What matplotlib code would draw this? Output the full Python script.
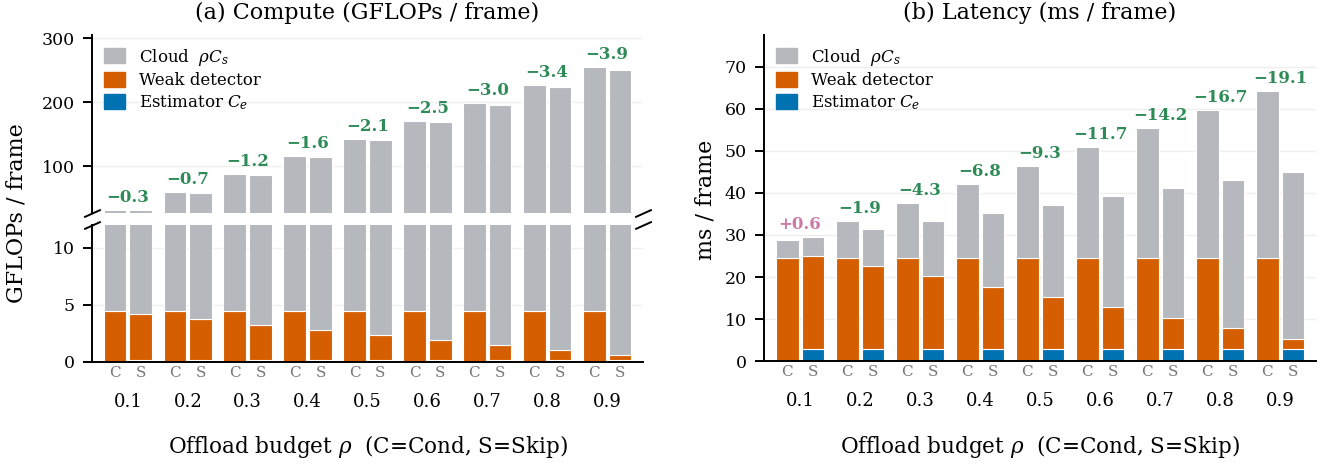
import numpy as np
import matplotlib.pyplot as plt
from matplotlib.patches import Patch

plt.rcParams['font.family'] = 'DejaVu Serif'
plt.rcParams['mathtext.fontset'] = 'dejavuserif'

budgets = ['0.1', '0.2', '0.3', '0.4', '0.5', '0.6', '0.7', '0.8', '0.9']

# compute per frame (GFLOPs); cloud share is the same for Cond and Skip
gf_cloud = [27.8, 55.6, 83.4, 111.2, 139.0, 166.8, 194.6, 222.4, 250.2]
gf_weak_cond = [4.45, 4.45, 4.45, 4.45, 4.45, 4.45, 4.45, 4.45, 4.45]
gf_weak_skip = [4.0, 3.56, 3.11, 2.67, 2.22, 1.78, 1.33, 0.89, 0.44]
gf_est_skip = [0.15, 0.15, 0.15, 0.15, 0.15, 0.15, 0.15, 0.15, 0.15]

# latency per frame (ms)
ms_cloud = [4.4, 8.8, 13.2, 17.6, 22.0, 26.4, 30.8, 35.2, 39.6]
ms_weak_cond = [24.5, 24.5, 24.5, 24.5, 24.5, 24.5, 24.5, 24.5, 24.5]
ms_weak_skip = [22.1, 19.6, 17.2, 14.7, 12.2, 9.8, 7.3, 4.8, 2.4]
ms_est_skip = [3.0, 3.0, 3.0, 3.0, 3.0, 3.0, 3.0, 3.0, 3.0]

GRAY = '#b5b8bd'
ORANGE = '#d55e00'
BLUE = '#0072b2'
GREEN = '#2e8b57'
PINK = '#cc79a7'

OFF = 0.215
W = 0.38


def stacked_pairs(ax, cloud, weak_c, weak_s, est_s):
    x = np.arange(len(cloud))
    cloud = np.asarray(cloud)
    weak_c = np.asarray(weak_c)
    weak_s = np.asarray(weak_s)
    est_s = np.asarray(est_s)
    kw = dict(width=W, edgecolor='white', linewidth=0.8, zorder=2)
    # Cond: weak detector + cloud
    ax.bar(x - OFF, weak_c, color=ORANGE, **kw)
    ax.bar(x - OFF, cloud, bottom=weak_c, color=GRAY, **kw)
    # Skip: estimator + reduced weak detector + cloud
    ax.bar(x + OFF, est_s, color=BLUE, **kw)
    ax.bar(x + OFF, weak_s, bottom=est_s, color=ORANGE, **kw)
    ax.bar(x + OFF, cloud, bottom=est_s + weak_s, color=GRAY, **kw)
    tot_c = weak_c + cloud
    tot_s = est_s + weak_s + cloud
    return tot_c, tot_s


def delta_labels(ax, tot_c, tot_s):
    for i, (c, s) in enumerate(zip(tot_c, tot_s)):
        d = s - c
        txt = f'{d:+.1f}'.replace('-', '\u2212')
        ax.annotate(txt, (i, max(c, s)), xytext=(0, 4), textcoords='offset pixels',
                    ha='center', va='bottom', fontsize=12, fontweight='bold',
                    color=PINK if d > 0 else GREEN)


def style(ax):
    ax.spines['top'].set_visible(False)
    ax.spines['right'].set_visible(False)
    for s in ax.spines.values():
        s.set_linewidth(1.4)
    ax.yaxis.grid(True, color='#efefef', linewidth=1)
    ax.set_axisbelow(True)
    ax.tick_params(axis='y', length=6.5, width=1.4, pad=6, labelsize=12.5)
    ax.set_xlim(-0.6, 8.6)


def x_labels(ax, title_ax, title):
    x = np.arange(len(budgets))
    ax.set_xticks([])
    for i, b in enumerate(budgets):
        for dx, lab in ((-OFF, 'C'), (OFF, 'S')):
            ax.annotate(lab, (i + dx, 0), xycoords=('data', 'axes fraction'),
                        xytext=(0, -11), textcoords='offset pixels',
                        ha='center', va='center', fontsize=11, color='#777777')
        ax.annotate(b, (x[i], 0), xycoords=('data', 'axes fraction'),
                    xytext=(0, -40), textcoords='offset pixels',
                    ha='center', va='center', fontsize=13)
    ax.annotate(r'Offload budget $\rho$  (C=Cond, S=Skip)', (0.5, 0),
                xycoords='axes fraction', xytext=(0, -85), textcoords='offset pixels',
                ha='center', va='center', fontsize=15.5)
    title_ax.annotate(title, (0.5, 1), xycoords='axes fraction', xytext=(0, 22),
                      textcoords='offset pixels', ha='center', va='center', fontsize=16)


def add_legend(ax):
    handles = [Patch(color=GRAY, label=r'Cloud  $\rho C_s$'),
               Patch(color=ORANGE, label='Weak detector'),
               Patch(color=BLUE, label=r'Estimator $C_e$')]
    ax.legend(handles=handles, loc='upper left', frameon=False, fontsize=12,
              handlelength=1.3, handleheight=1.0, labelspacing=0.25,
              handletextpad=0.8, borderaxespad=0.3, borderpad=0.4)


fig = plt.figure(figsize=(13.35, 4.66), dpi=100)

# (a) compute, broken y axis
ax_top = fig.add_axes([0.0689, 0.5423, 0.4127, 0.3826])
ax_bot = fig.add_axes([0.0689, 0.2238, 0.4127, 0.2934])
for ax in (ax_top, ax_bot):
    tc, ts = stacked_pairs(ax, gf_cloud, gf_weak_cond, gf_weak_skip, gf_est_skip)
    style(ax)
ax_top.set_ylim(27, 305)
ax_top.set_yticks([100, 200, 300])
ax_top.spines['bottom'].set_visible(False)
ax_top.set_xticks([])
ax_bot.set_ylim(0, 12)
ax_bot.set_yticks([0, 5, 10])
delta_labels(ax_top, tc, ts)
add_legend(ax_top)
x_labels(ax_bot, ax_top, '(a) Compute (GFLOPs / frame)')

d = 0.45
brk = dict(marker=[(-1, -d), (1, d)], markersize=12, linestyle='none',
           color='k', mec='k', mew=1.4, clip_on=False)
ax_top.plot([0, 1], [0, 0], transform=ax_top.transAxes, **brk)
ax_bot.plot([0, 1], [1, 1], transform=ax_bot.transAxes, **brk)

fig.text(17 / 1335, 1 - 213 / 466, 'GFLOPs / frame', rotation=90,
         ha='center', va='center', fontsize=16)

# (b) latency
ax_r = fig.add_axes([0.5723, 0.2247, 0.4135, 0.7002])
tc, ts = stacked_pairs(ax_r, ms_cloud, ms_weak_cond, ms_weak_skip, ms_est_skip)
style(ax_r)
ax_r.set_ylim(0, 77.5)
ax_r.set_yticks(np.arange(0, 71, 10))
delta_labels(ax_r, tc, ts)
add_legend(ax_r)
x_labels(ax_r, ax_r, '(b) Latency (ms / frame)')
fig.text(706 / 1335, 1 - 200 / 466, 'ms / frame', rotation=90,
         ha='center', va='center', fontsize=16)

fig.savefig('out.png', dpi=100)
